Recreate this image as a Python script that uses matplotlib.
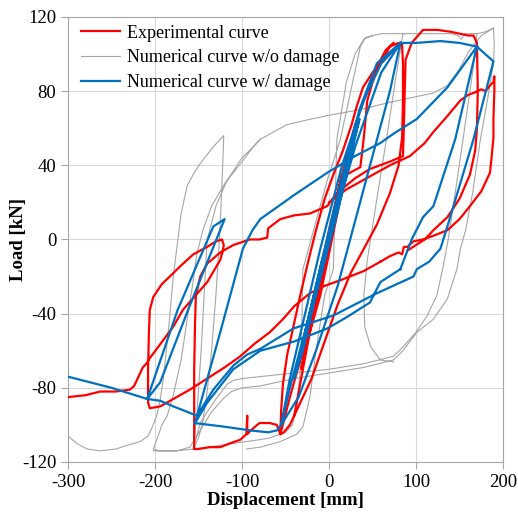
import numpy as np
import matplotlib.pyplot as plt

plt.rcParams['font.family'] = ['Liberation Serif', 'DejaVu Serif']
plt.rcParams['axes.unicode_minus'] = False

# (displacement [mm], load [kN]) points, one list per branch
# experimental curve
exp_center = [(0, 0), (8, 20), (15, 35), (10, 25), (-5, -10), (-15, -35), (-20, -45), (-12, -30),
              (0, -5), (12, 25), (22, 48), (30, 60), (25, 50), (10, 15), (-10, -30), (-25, -55),
              (-32, -70), (-28, -60), (-15, -30), (0, 5), (15, 35), (30, 62), (40, 75), (50, 88),
              (60, 95), (70, 100), (78, 104), (82, 106), (84, 104), (85, 95), (85, 75), (84, 55),
              (80, 40), (70, 25), (55, 8), (40, -5), (25, -18), (10, -35), (-5, -55), (-20, -75),
              (-35, -90), (-45, -100), (-52, -104), (-56, -105), (-55, -92), (-53, -78), (-48, -62),
              (-41, -47), (-33, -30), (-24, -12), (-15, 5), (-5, 22), (5, 35), (16, 48), (26, 62),
              (32, 72), (39, 82), (50, 90), (59, 95), (70, 104), (80, 106), (84, 105)]
exp_inner = [(-40, -95), (-30, -70), (-20, -45), (-8, -15), (5, 12), (20, 35), (36, 39), (40, 55),
             (44, 75), (55, 93), (65, 102), (74, 106)]
exp_loop155 = [(-30, -60), (-45, -85), (-52, -98), (-56, -105), (-60, -100), (-68, -99), (-80, -99),
               (-90, -103), (-94, -105), (-94, -95), (-95, -105), (-102, -108), (-114, -110),
               (-125, -112), (-137, -112), (-150, -113), (-155, -113), (-155, -100), (-155, -70),
               (-154, -45), (-153, -30), (-148, -20), (-140, -13), (-125, -7), (-110, -3), (-91, 0),
               (-80, 0), (-71, 1), (-70, 6), (-56, 11), (-40, 13), (-22, 14), (-2, 18), (9, 25),
               (30, 33), (47, 38), (70, 42), (85, 45), (86, 60), (87, 80), (88, 97), (95, 106),
               (108, 113), (125, 113), (140, 112), (150, 111), (160, 110), (166, 110), (170, 106),
               (171, 80), (170, 60), (168, 48), (162, 35), (150, 22), (136, 12), (120, 5), (110, 0),
               (100, -3), (90, -6)]
exp_peak189 = [(0, 20), (20, 27), (47, 34), (70, 40), (93, 45), (110, 52), (120, 58), (135, 66),
               (151, 75), (160, 78), (166, 79), (175, 81), (180, 80), (185, 83), (189, 85), (190, 88),
               (190, 80), (189, 65), (189, 55), (187, 45), (185, 36), (175, 26), (162, 18), (150, 11),
               (136, 5), (120, 2), (108, 0), (97, -1), (90, -4), (86, -4), (84, -8), (80, -7),
               (70, -9), (59, -12)]
exp_final = [(59, -12), (40, -17), (13, -22), (-5, -25), (-22, -29), (-40, -36), (-53, -43),
             (-68, -50), (-85, -56), (-102, -63), (-120, -69), (-140, -75), (-160, -81), (-179, -86),
             (-194, -90), (-206, -91), (-208, -88), (-208, -70), (-207, -50), (-206, -38), (-202, -31),
             (-192, -24), (-183, -20), (-170, -14), (-156, -8), (-148, -6), (-140, -4), (-130, -1),
             (-123, 0), (-121, -3), (-122, -6), (-125, -11), (-140, -23), (-155, -31), (-168, -38),
             (-179, -47), (-190, -54), (-198, -59), (-206, -64), (-210, -67), (-214, -69), (-218, -73),
             (-224, -79), (-229, -81), (-245, -82), (-263, -82), (-280, -84), (-300, -85)]

# numerical curve without damage
nod_left = [(-300, -106), (-290, -110), (-278, -113), (-263, -114), (-245, -113), (-232, -111),
            (-217, -109), (-208, -106), (-203, -101), (-198, -95), (-194, -86), (-191, -77),
            (-187, -60), (-183, -41), (-179, -20), (-175, -5), (-170, 14), (-163, 29), (-155, 36),
            (-148, 41), (-133, 50), (-121, 56), (-122, 42), (-124, 20), (-126, 0), (-130, -30),
            (-135, -60), (-140, -82), (-145, -98), (-150, -107), (-156, -113), (-175, -114),
            (-195, -114), (-202, -113), (-198, -108), (-192, -100), (-186, -95), (-179, -84),
            (-170, -65), (-163, -43), (-157, -25), (-152, -8), (-145, 5), (-135, 18), (-120, 30),
            (-100, 42), (-87, 50), (-79, 54)]
nod_upper = [(-156, -113), (-152, -95), (-147, -60), (-143, -25), (-140, 0), (-130, 18), (-117, 32),
             (-100, 44), (-87, 50), (-79, 54), (-60, 59), (-48, 62), (-20, 65), (0, 67), (36, 70),
             (70, 74), (100, 77), (120, 79), (136, 83), (150, 92), (160, 101), (175, 110), (189, 114)]
nod_bottom1 = [(-156, -113), (-140, -112), (-110, -110), (-80, -108), (-68, -107), (-50, -104),
               (-42, -100), (-37, -90), (-33, -70), (-31, -40), (-30, -16), (-16, 8), (-2, 32),
               (13, 54), (25, 80), (32, 95), (36, 104), (42, 109), (60, 111), (85, 111)]
nod_bottom2 = [(-95, -113), (-79, -112), (-56, -109), (-37, -105), (-30, -101), (-22, -85),
               (-15, -60), (-5, -30), (5, -16), (7, 20), (9, 54), (20, 85), (30, 100), (40, 108),
               (50, 110)]
nod_unload = [(85, 111), (76, 85), (67, 57), (55, 22), (44, -11), (40, -30), (41, -47), (48, -58),
              (59, -65), (74, -66)]
nod_right1 = [(85, 111), (110, 111), (140, 111), (148, 110), (152, 108), (156, 111), (165, 111),
              (170, 111), (165, 90), (154, 54), (145, 25), (137, 0), (131, -15), (124, -30),
              (113, -41), (100, -50), (85, -58), (74, -63), (40, -67), (0, -70), (-40, -72),
              (-79, -74), (-100, -75), (-110, -76), (-117, -78), (-130, -86), (-140, -93),
              (-148, -99), (-152, -106), (-156, -112)]
nod_right2 = [(170, 111), (180, 112), (189, 114), (190, 105), (189, 95), (182, 75), (174, 54),
              (165, 25), (157, 5), (151, -5), (147, -16), (136, -32), (120, -43), (101, -50),
              (85, -60), (74, -65), (40, -69), (0, -72), (-40, -75), (-79, -79), (-100, -80),
              (-112, -82), (-122, -86), (-135, -93), (-148, -103), (-160, -112), (-175, -114),
              (-195, -114), (-202, -114)]

# numerical curve with damage
dmg_center = [(0, 0), (20, 35), (10, 15), (-15, -30), (-25, -45), (-10, -15), (15, 30), (35, 65),
              (25, 45), (-5, -10), (-30, -60), (-40, -75), (-25, -45), (5, 15), (35, 70), (55, 95),
              (82, 106), (70, 80), (50, 45), (30, 10), (10, -25), (-15, -60), (-35, -85),
              (-55, -100), (-45, -80), (-25, -45), (0, 0), (30, 50), (60, 90), (82, 106)]
dmg_top = [(82, 106), (100, 106), (128, 107), (150, 106), (170, 104), (189, 96), (166, 54),
           (136, 7), (128, -5), (115, -12), (101, -16), (97, -20), (55, -29), (5, -41), (-41, -48),
           (-79, -59), (-94, -62), (-110, -68), (-133, -81), (-145, -90), (-152, -95), (-179, -90),
           (-194, -87), (-209, -86), (-250, -80), (-300, -74)]
dmg_right = [(82, -16), (95, 0), (108, 12), (120, 18), (145, 54), (170, 104)]
dmg_lower = [(82, -16), (59, -23), (47, -34), (20, -42), (-2, -48), (-40, -55), (-79, -60),
             (-110, -70), (-140, -88), (-154, -99)]
dmg_loop209 = [(-209, -86), (-174, -38), (-133, 7), (-120, 11), (-162, -38), (-194, -77), (-209, -86)]
dmg_loop152 = [(-154, -99), (-125, -50), (-99, -5), (-88, 5), (-79, 11), (-40, 24), (-2, 36),
               (30, 45), (59, 52), (74, 57), (101, 65), (136, 82), (170, 104)]
dmg_bottom = [(-154, -99), (-120, -101), (-90, -103), (-70, -104), (-60, -103), (-55, -100),
              (-45, -75), (-30, -45), (-10, -5), (15, 40), (40, 75), (60, 95), (82, 106)]


def join(*branches):
    xs, ys = [], []
    for b in branches:
        xs += [p[0] for p in b] + [np.nan]
        ys += [p[1] for p in b] + [np.nan]
    return np.array(xs), np.array(ys)


exp_x, exp_y = join(exp_center, exp_inner, exp_loop155, exp_peak189, exp_final)
nod_x, nod_y = join(nod_left, nod_upper, nod_bottom1, nod_bottom2, nod_unload, nod_right1, nod_right2)
dmg_x, dmg_y = join(dmg_center, dmg_top, dmg_right, dmg_lower, dmg_loop209, dmg_loop152, dmg_bottom)

fig = plt.figure(figsize=(5.18, 5.14), dpi=100)
ax = fig.add_axes([0.1313, 0.1012, 0.8398, 0.8658])

l_nod, = ax.plot(nod_x, nod_y, color='#a6a6a6', lw=0.8, zorder=2)
l_exp, = ax.plot(exp_x, exp_y, color='#ff0000', lw=1.6, zorder=3)
l_dmg, = ax.plot(dmg_x, dmg_y, color='#0070c0', lw=1.6, zorder=4)

ax.set_xlim(-300, 200)
ax.set_ylim(-120, 120)
ax.set_xticks(np.arange(-300, 201, 100))
ax.set_yticks(np.arange(-120, 121, 40))
ax.grid(True, color='#d9d9d9', lw=0.8)
ax.set_axisbelow(True)
for s in ax.spines.values():
    s.set_color('#a6a6a6')
ax.tick_params(direction='out', length=5, color='#a6a6a6', labelsize=13.5)
ax.set_xlabel('Displacement [mm]', fontsize=13.5, fontweight='bold', labelpad=1)
ax.set_ylabel('Load [kN]', fontsize=13.5, fontweight='bold')
ax.yaxis.set_label_coords(-0.095, 0.5)

ax.legend([l_exp, l_nod, l_dmg],
          ['Experimental curve', 'Numerical curve w/o damage', 'Numerical curve w/ damage'],
          loc='upper left', bbox_to_anchor=(0.008, 1.003), frameon=False, fontsize=13,
          handlelength=2.2, borderaxespad=0.1, labelspacing=0.42, handletextpad=0.4)

fig.savefig('out.png', dpi=100)
